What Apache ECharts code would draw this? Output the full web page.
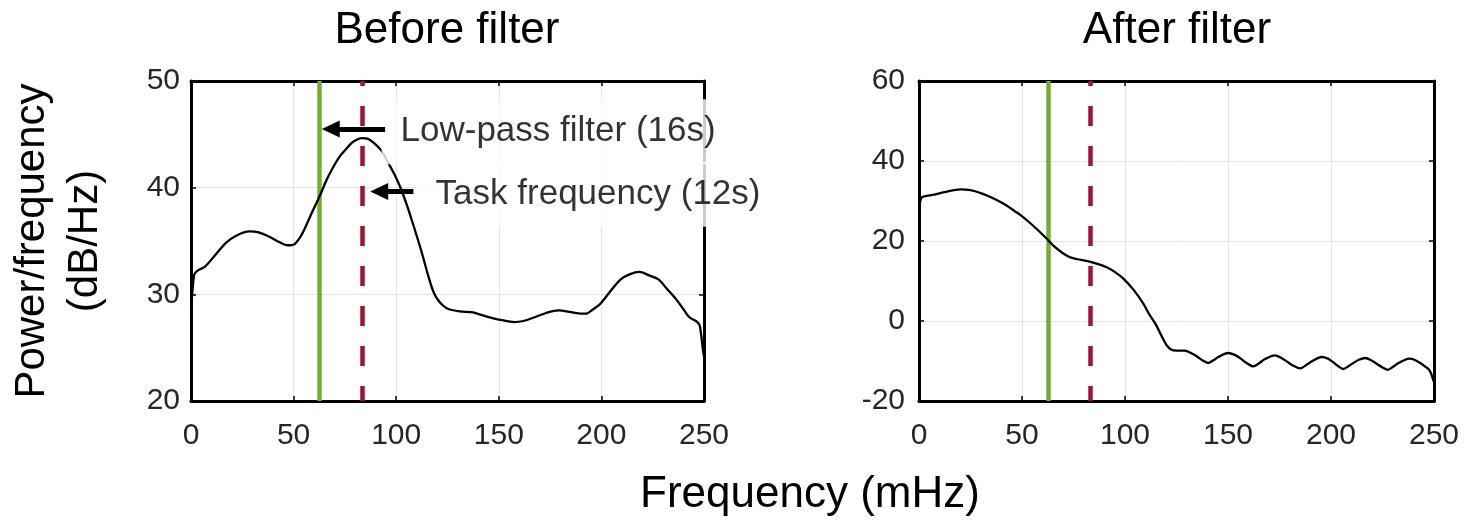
<!DOCTYPE html>
<html>
<head>
<meta charset="utf-8">
<script src="https://cdn.jsdelivr.net/npm/echarts@6/dist/echarts.min.js"></script>
<style>
html,body{margin:0;padding:0;background:#fff;}
#chart{width:1468px;height:524px;}
</style>
</head>
<body>
<div id="chart"></div>
<script>
// ---- data ----
const beforeFreq  = [0, 1.5, 3, 6.8, 11, 16.9, 22, 28.6, 33, 38.7, 43, 47, 50.4, 53, 55.3, 59, 62.8, 66, 68.8, 72, 75.5, 79, 83.3, 86, 88.8, 92.7, 95.6, 99, 102.3, 105.5, 109, 112.5, 115.6, 118, 119.9, 122.5, 125.7, 131, 137.4, 141, 145.6, 151, 157.5, 162, 167.5, 173, 179, 186, 190, 192.7, 196, 199.4, 204, 209.4, 214, 218.6, 223, 227.8, 232, 236.2, 240, 242.9, 246.8, 248, 249.6, 250];
const beforePower = [28.3, 31.8, 32.2, 32.6, 33.5, 34.8, 35.5, 35.9, 35.8, 35.35, 34.9, 34.6, 34.7, 35.3, 36.1, 37.7, 39.25, 40.7, 41.75, 42.8, 43.6, 44.3, 44.65, 44.6, 44.25, 43.5, 42.5, 41.3, 39.9, 38.2, 36.1, 33.9, 31.75, 30.3, 29.6, 29.0, 28.6, 28.4, 28.3, 28.1, 27.85, 27.6, 27.4, 27.5, 27.85, 28.25, 28.5, 28.3, 28.2, 28.2, 28.6, 29.1, 30.2, 31.4, 31.9, 32.1, 31.8, 31.4, 30.5, 29.6, 28.6, 27.85, 27.4, 27.0, 24.6, 24.2];

const afterFreq  = [0, 0.8, 1.6, 7.4, 13, 20.1, 25, 31, 36, 41.1, 45, 49.5, 55, 61.8, 65.5, 69.7, 73, 76.5, 82.4, 87, 91.6, 95.5, 99.2, 104, 108.5, 112, 115.2, 118, 120.2, 122.6, 125, 129.1, 132, 134.8, 137.5, 140.4, 143, 145.3, 150.1, 153, 155.8, 159, 162.3, 165, 168, 172.8, 175.5, 178.5, 181.5, 185, 189.8, 195.5, 198.5, 201.2, 203.5, 206, 208.5, 210.9, 213.5, 216.6, 219.5, 222.2, 225, 227.6, 230, 232.8, 235.5, 238.1, 240.5, 243.3, 245.5, 247.3, 248.5, 249.8];
const afterPower = [28.5, 30.3, 31.0, 31.6, 32.3, 32.9, 32.7, 31.8, 30.7, 29.3, 28.0, 26.4, 24.0, 20.7, 18.7, 17.0, 16.0, 15.5, 14.9, 14.2, 13.3, 12.1, 10.6, 7.9, 4.65, 1.5, -1.1, -4.0, -6.05, -7.2, -7.4, -7.4, -8.0, -8.8, -9.8, -10.5, -9.8, -9.0, -8.0, -8.4, -9.25, -10.5, -11.35, -10.6, -9.5, -8.6, -9.1, -10.1, -11.1, -11.85, -10.35, -9.0, -9.4, -10.35, -11.3, -12.0, -11.3, -10.5, -9.7, -9.25, -9.8, -10.7, -11.6, -12.2, -11.5, -10.5, -9.8, -9.4, -9.7, -10.5, -11.3, -12.0, -13.0, -15.1];

const panelTitles = ['Before filter', 'After filter'];
const xLabel = 'Frequency (mHz)';
const yLabel = 'Power/frequency\n(dB/Hz)';
const xAxisRange = [0, 250, 50];          // min, max, interval
const yBeforeRange = [20, 50, 10];
const yAfterRange = [-20, 60, 20];

const lowPassFreq = 62.5;   // 16 s
const taskFreq = 83.33;     // 12 s

const annotationTexts = ['Low-pass filter (16s)', 'Task frequency (12s)'];
const annotationAnchors = [[92.6, 45.25], [109.7, 39.38]];   // left-middle of label boxes
const arrowTails = [[94.6, 45.5], [108.4, 39.65]];
const arrowTips  = [[68.1, 45.5], [91.7, 39.65]];

// ---- build ----
const zip = (a, b) => a.map((v, i) => [v, b[i]]);
const FONT = "'Liberation Sans', Helvetica, Arial, sans-serif";
const TICK_COLOR = '#262626';

function xAxes(gridIndex) {
  const base = {
    type: 'value', gridIndex, min: xAxisRange[0], max: xAxisRange[1], interval: xAxisRange[2],
    axisLine: { show: true, onZero: false, lineStyle: { color: '#000', width: 3 } },
    axisTick: { show: true, inside: true, length: 5, lineStyle: { color: '#000', width: 1.5 } }
  };
  return [
    Object.assign({}, base, {
      position: 'bottom',
      axisLabel: { show: true, fontSize: 30, fontFamily: FONT, color: TICK_COLOR, margin: 20 },
      splitLine: { show: true, lineStyle: { color: '#e3e3e3', width: 1 } }
    }),
    Object.assign({}, base, { position: 'top', axisLabel: { show: false }, splitLine: { show: false } })
  ];
}
function yAxes(gridIndex, range, margin) {
  const base = {
    type: 'value', gridIndex, min: range[0], max: range[1], interval: range[2],
    axisLine: { show: true, onZero: false, lineStyle: { color: '#000', width: 3 } },
    axisTick: { show: true, inside: true, length: 5, lineStyle: { color: '#000', width: 1.5 } }
  };
  return [
    Object.assign({}, base, {
      position: 'left',
      axisLabel: { show: true, fontSize: 30, fontFamily: FONT, color: TICK_COLOR, margin },
      splitLine: { show: true, lineStyle: { color: '#e3e3e3', width: 1 } }
    }),
    Object.assign({}, base, { position: 'right', axisLabel: { show: false }, splitLine: { show: false } })
  ];
}

function verticalLines() {
  return {
    silent: true, symbol: 'none', z: 2, animation: false,
    label: { show: false },
    emphasis: { disabled: true },
    data: [
      { xAxis: lowPassFreq, lineStyle: { color: '#77AC30', width: 4.5, type: 'solid' } },
      { xAxis: taskFreq, lineStyle: { color: '#A2142F', width: 4.5, type: [20, 20], dashOffset: 5 } }
    ]
  };
}

const curveStyle = { color: '#000', width: 2.3 };

const option = {
  animation: false,
  backgroundColor: '#fff',
  grid: [
    { left: 191, top: 81, right: 764, bottom: 123, containLabel: false },
    { left: 919, top: 81, right: 34, bottom: 123, containLabel: false }
  ],
  xAxis: [...xAxes(0), ...xAxes(1)],
  yAxis: [...yAxes(0, yBeforeRange, 11), ...yAxes(1, yAfterRange, 14)],
  series: [
    {
      type: 'line', xAxisIndex: 0, yAxisIndex: 0, z: 3,
      data: zip(beforeFreq, beforePower), showSymbol: false, smooth: 0.3,
      lineStyle: curveStyle, itemStyle: { color: '#000' },
      markLine: verticalLines()
    },
    {
      type: 'scatter', xAxisIndex: 0, yAxisIndex: 0, z: 10, clip: false, silent: true,
      symbolSize: 1, itemStyle: { color: 'rgba(0,0,0,0)' },
      data: annotationAnchors.map((p, i) => ({ value: p, name: annotationTexts[i] })),
      label: {
        show: true, position: 'right', distance: 0, formatter: '{b}',
        fontSize: 35, fontFamily: FONT, color: '#000',
        backgroundColor: '#fff', padding: [15, 20, 15, 19]
      },
      markLine: {
        silent: true, z: 12, animation: false,
        label: { show: false }, emphasis: { disabled: true },
        lineStyle: { color: '#000', width: 5, type: 'solid' },
        data: arrowTails.map((t, i) => [
          { coord: t, symbol: 'none' },
          { coord: arrowTips[i], symbol: 'triangle', symbolSize: [17, 18] }
        ])
      }
    },
    {
      type: 'line', xAxisIndex: 2, yAxisIndex: 2, z: 3,
      data: zip(afterFreq, afterPower), showSymbol: false, smooth: 0.3,
      lineStyle: curveStyle, itemStyle: { color: '#000' },
      markLine: verticalLines()
    }
  ],
  graphic: [
    { type: 'text', x: 447, y: 31, style: { text: panelTitles[0], font: '44px ' + FONT, fill: '#000', textAlign: 'center', textVerticalAlign: 'middle' } },
    { type: 'text', x: 1177, y: 31, style: { text: panelTitles[1], font: '44px ' + FONT, fill: '#000', textAlign: 'center', textVerticalAlign: 'middle' } },
    { type: 'text', x: 810, y: 495, style: { text: xLabel, font: '44px ' + FONT, fill: '#000', textAlign: 'center', textVerticalAlign: 'middle' } },
    { type: 'text', x: 59, y: 241, rotation: Math.PI / 2, style: { text: yLabel, font: '42px ' + FONT, fill: '#000', textAlign: 'center', textVerticalAlign: 'middle', lineHeight: 53 } }
  ]
};

const chart = echarts.init(document.getElementById('chart'), null, { renderer: 'canvas' });
chart.setOption(option);
</script>
</body>
</html>
